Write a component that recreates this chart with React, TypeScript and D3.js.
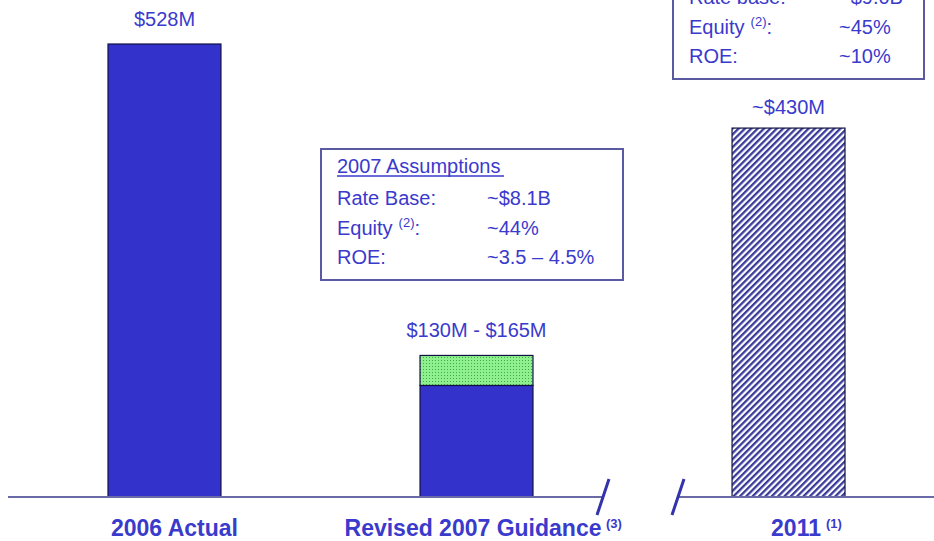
import React from "react";
import * as d3 from "d3";

const categories = ["2006 Actual", "Revised 2007 Guidance", "2011"];
const categoryNotes = ["", "(3)", "(1)"];
const baseValues = [528, 130, 430];
const rangeTopValues = [0, 165, 0];
const valueLabels = ["$528M", "$130M - $165M", "~$430M"];
const barKinds = ["solid", "range", "hatch"];

const box2007Title = "2007 Assumptions";
const box2007Labels = ["Rate Base:", "Equity", "ROE:"];
const box2007Values = ["~$8.1B", "~44%", "~3.5 – 4.5%"];
const box2011Labels = ["Rate base:", "Equity", "ROE:"];
const box2011Values = ["~$9.0B", "~45%", "~10%"];

const W = 934;
const H = 541;
const BLUE = "#3333cc";
const TEXT = "#3a3acc";
const AXIS = "#6a6aa8";
const FONT = "'Liberation Sans', Arial, sans-serif";

// layout offsets (pixels) of category labels relative to bar centres
const labelShift = [10, -3.5, 7.5];
const noteShift = [0, 129.5, 37.5];

export default function App() {
  const baseline = 497;
  const y = d3.scaleLinear().domain([0, 528]).range([baseline, 44]);
  const x = d3
    .scaleBand<string>()
    .domain(categories)
    .range([108, 845])
    .paddingInner(0.638)
    .paddingOuter(0);
  const bw = x.bandwidth();

  const boxRow = (
    labels: string[],
    values: string[],
    lx: number,
    vx: number,
    ys: number[]
  ) =>
    labels.map((l, i) => (
      <g key={l}>
        <text x={lx} y={ys[i]} fontSize={20} fill={TEXT}>
          {l}
          {l === "Equity" ? (
            <>
              <tspan dx={6} dy={-8} fontSize={13}>
                (2)
              </tspan>
              <tspan dy={8}>:</tspan>
            </>
          ) : null}
        </text>
        <text x={vx} y={ys[i]} fontSize={20} fill={TEXT}>
          {values[i]}
        </text>
      </g>
    ));

  return (
    <svg
      width={W}
      height={H}
      style={{ position: "absolute", left: 0, top: 0, background: "#fff" }}
      fontFamily={FONT}
    >
      <defs>
        <pattern id="hatch" width="4.5" height="4.5" patternUnits="userSpaceOnUse" patternTransform="rotate(45)">
          <rect width="4.5" height="4.5" fill="#ffffff" />
          <rect width="2.3" height="4.5" fill="#3a3a99" />
        </pattern>
        <pattern id="dots" width="3" height="3" patternUnits="userSpaceOnUse">
          <rect width="3" height="3" fill="#8ef08e" />
          <rect width="1" height="1" fill="#3fae3f" />
        </pattern>
      </defs>

      {/* bars */}
      {categories.map((c, i) => {
        const x0 = x(c)!;
        const kind = barKinds[i];
        const top = y(baseValues[i]);
        return (
          <g key={c}>
            <rect
              x={x0}
              y={top}
              width={bw}
              height={baseline - top}
              fill={kind === "hatch" ? "url(#hatch)" : BLUE}
              stroke="#111144"
              strokeWidth={1.2}
            />
            {kind === "range" ? (
              <rect
                x={x0}
                y={y(rangeTopValues[i])}
                width={bw}
                height={top - y(rangeTopValues[i])}
                fill="url(#dots)"
                stroke="#111144"
                strokeWidth={1.2}
              />
            ) : null}
            <text
              x={x0 + bw / 2}
              y={y(Math.max(baseValues[i], rangeTopValues[i])) - (kind === "hatch" ? 14 : 18)}
              textAnchor="middle"
              fontSize={20}
              fill={TEXT}
            >
              {valueLabels[i]}
            </text>
          </g>
        );
      })}

      {/* axis with break */}
      <line x1={8} x2={604} y1={baseline} y2={baseline} stroke={AXIS} strokeWidth={2} />
      <line x1={679} x2={934} y1={baseline} y2={baseline} stroke={AXIS} strokeWidth={2} />
      <line x1={597} y1={515} x2={609} y2={479} stroke="#3333aa" strokeWidth={3} />
      <line x1={672} y1={515} x2={684} y2={479} stroke="#3333aa" strokeWidth={3} />

      {/* category labels */}
      {categories.map((c, i) => {
        const cx = x(c)! + bw / 2;
        return (
          <g key={c}>
            <text
              x={cx + labelShift[i]}
              y={536}
              textAnchor="middle"
              fontSize={23}
              fontWeight="bold"
              fill={TEXT}
            >
              {c}
            </text>
            {categoryNotes[i] ? (
              <text x={cx + noteShift[i]} y={528} fontSize={13} fontWeight="bold" fill={TEXT}>
                {categoryNotes[i]}
              </text>
            ) : null}
          </g>
        );
      })}

      {/* 2007 assumptions box */}
      <rect x={321} y={149} width={302} height={131} fill="#fff" stroke="#5a5aa0" strokeWidth={2} />
      <text x={337} y={173} fontSize={20} fill={TEXT}>
        {box2007Title}
      </text>
      <line x1={337} x2={504} y1={176} y2={176} stroke={TEXT} strokeWidth={1.5} />
      {boxRow(box2007Labels, box2007Values, 337, 487, [205, 235, 264])}

      {/* 2011 box (cut off at top) */}
      <rect x={673} y={-20} width={251} height={99} fill="#fff" stroke="#5a5aa0" strokeWidth={2} />
      {boxRow(box2011Labels, box2011Values, 689, 839, [4, 34, 63])}
    </svg>
  );
}
